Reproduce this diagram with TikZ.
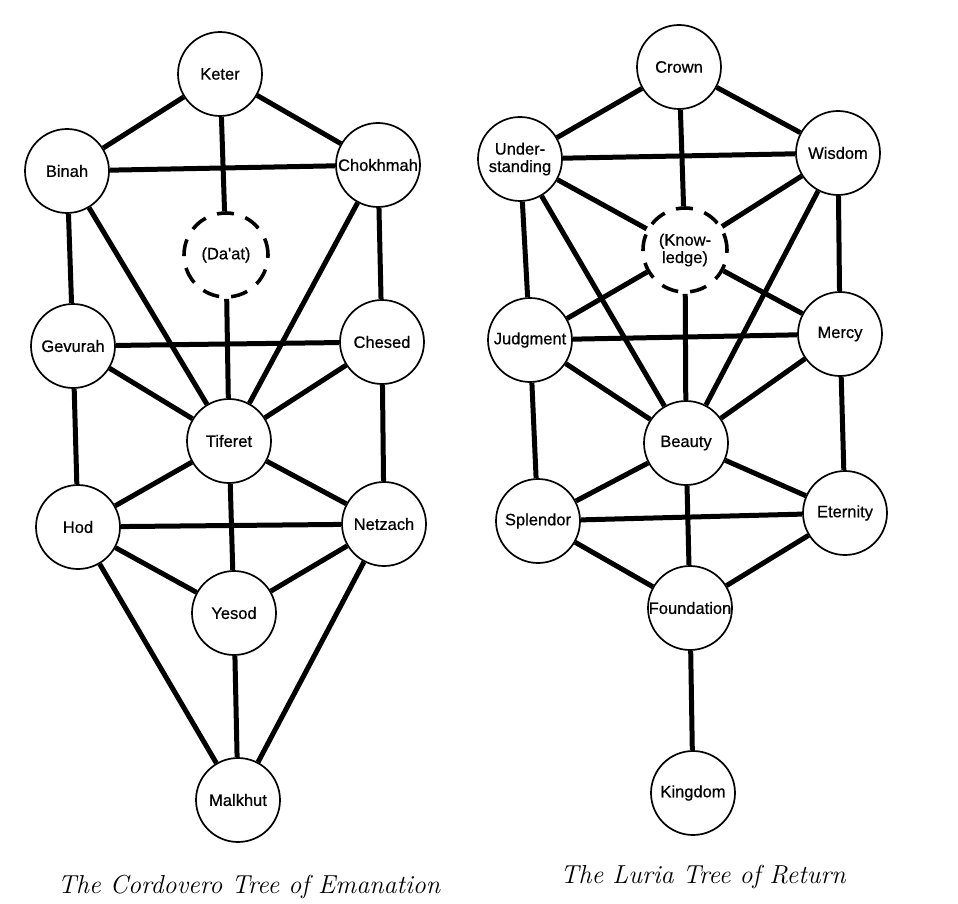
\documentclass[tikz,border=0pt]{standalone}
\usepackage{fontspec}
\newfontfamily\sefsans[FakeBold=0.6]{Liberation Sans}
\begin{document}
\begin{tikzpicture}[x=1pt,y=-1pt]
\tikzset{
  sef/.style={circle, draw, line width=1.7pt, fill=white, minimum size=84pt, inner sep=0pt,
    font=\sefsans\fontsize{16.5}{17.5}\selectfont, align=center},
  dsef/.style={sef, line width=3.6pt, dash pattern=on 17pt off 12pt, minimum size=84pt},
  link/.style={line width=5pt},
  capt/.style={font=\itshape\fontsize{26}{30}\selectfont, anchor=base}
}
\useasboundingbox (0,0) rectangle (958,904);
% ---- Cordovero tree ----
\node[sef] (keter) at (220,74) {Keter};
\node[sef] (binah) at (67,171) {Binah};
\node[sef] (chok) at (378,165) {Chokhmah};
\node[dsef] (daat) at (226,255) {(Da'at)};
\node[sef] (gev) at (73,346) {Gevurah};
\node[sef] (ches) at (382,342) {Chesed};
\node[sef] (tif) at (229,441) {Tiferet};
\node[sef] (hod) at (78,527) {Hod};
\node[sef] (netz) at (384,524) {Netzach};
\node[sef] (yes) at (234,613) {Yesod};
\node[sef] (mal) at (238,800) {Malkhut};
\foreach \a/\b in {keter/binah, keter/chok, keter/daat, binah/chok, binah/gev, binah/tif,
  chok/ches, chok/tif, daat/tif, gev/ches, gev/tif, gev/hod, ches/tif, ches/netz,
  tif/hod, tif/netz, tif/yes, hod/netz, hod/yes, hod/mal, netz/yes, netz/mal, yes/mal}
  \draw[link] (\a) -- (\b);
% ---- Luria tree ----
\node[sef] (crown) at (679,67) {Crown};
\node[sef] (und) at (520,159) {Under-\\standing};
\node[sef] (wis) at (838,153) {Wisdom};
\node[dsef] (know) at (685,250) {(Know-\\ledge)};
\node[sef] (jud) at (530,340) {Judgment};
\node[sef] (mer) at (840,334) {Mercy};
\node[sef] (bea) at (686,443) {Beauty};
\node[sef] (spl) at (538,521) {Splendor};
\node[sef] (ete) at (845,513) {Eternity};
\node[sef] (fou) at (690,608) {\makebox[0pt][c]{Foundation}};
\node[sef] (kin) at (693,793) {Kingdom};
\foreach \a/\b in {crown/und, crown/wis, crown/know, und/wis, und/know, wis/know,
  und/jud, und/bea, wis/mer, wis/bea, know/jud, know/mer, know/bea,
  jud/mer, jud/bea, mer/bea, jud/spl, mer/ete, bea/spl, bea/ete, bea/fou,
  spl/ete, spl/fou, ete/fou, fou/kin}
  \draw[link] (\a) -- (\b);
% ---- captions ----
\node[capt] (capL) at (249,893) {The Cordovero Tree of Emanation};
\node[capt] (capR) at (703,883) {The Luria Tree of Return};
\end{tikzpicture}
\end{document}
